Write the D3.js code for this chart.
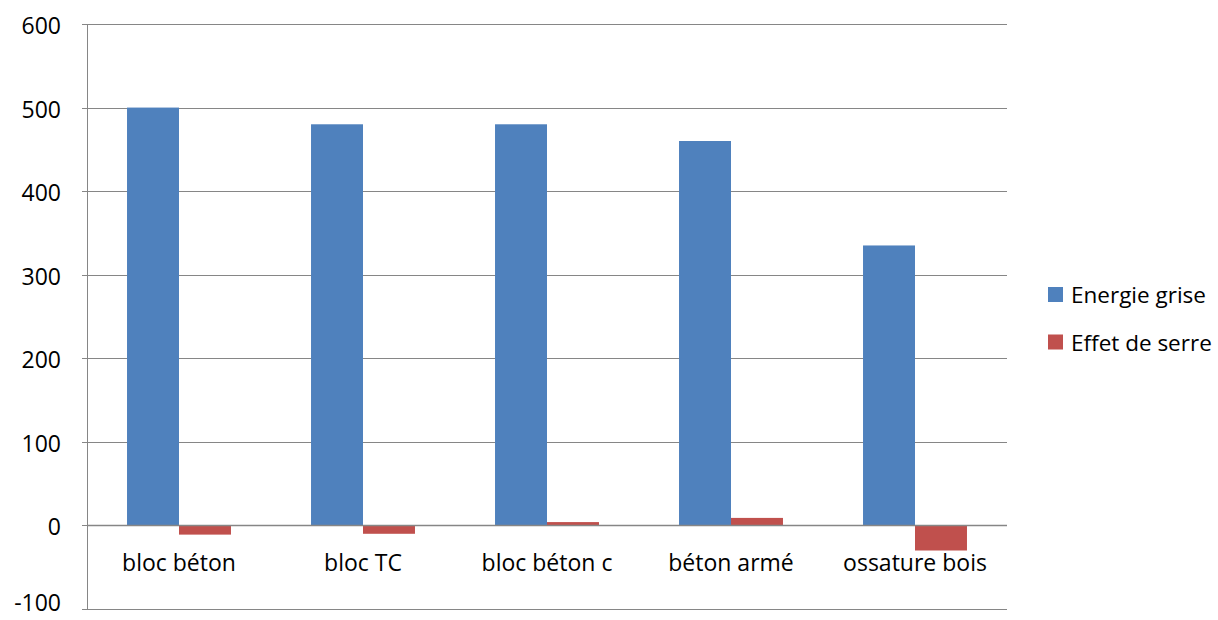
<!DOCTYPE html>
<html>
<head>
<meta charset="utf-8">
<script src="https://cdn.jsdelivr.net/npm/d3@7"></script>
<style>
  html, body { margin: 0; padding: 0; background: #fff; }
  text { font-family: "Open Sans", Lato, sans-serif; fill: #000; }
</style>
</head>
<body>
<svg id="chart" width="1218" height="620"></svg>
<script>
const categories = ["bloc béton", "bloc TC", "bloc béton c", "béton armé", "ossature bois"];
const seriesNames = ["Energie grise", "Effet de serre"];
const energieGrise = [500, 480, 480, 460, 335];
const effetDeSerre = [-11, -10, 4, 9, -30];
const yTicks = [-100, 0, 100, 200, 300, 400, 500, 600];
const colors = ["#4F81BD", "#C0504D"];

const svg = d3.select("#chart");
const plot = { left: 87, right: 1007, top: 24, bottom: 609 };
const fontSize = "23px";

const x = d3.scaleBand().domain(categories).range([plot.left, plot.right]).paddingInner(0).paddingOuter(0);
const y = d3.scaleLinear().domain([-100, 600]).range([plot.bottom, plot.top]);

const gridColor = "#868686";

// horizontal gridlines
svg.append("g").selectAll("line").data(yTicks).join("line")
  .attr("x1", plot.left - 5).attr("x2", plot.right)
  .attr("y1", d => Math.round(y(d)) + 0.5).attr("y2", d => Math.round(y(d)) + 0.5)
  .attr("stroke", gridColor).attr("stroke-width", 1);

// vertical value axis
svg.append("line")
  .attr("x1", plot.left + 0.5).attr("x2", plot.left + 0.5)
  .attr("y1", plot.top).attr("y2", plot.bottom + 0.5)
  .attr("stroke", gridColor).attr("stroke-width", 1);

// tick labels (the lowest one is clamped so it stays on the page)
svg.append("g").selectAll("text").data(yTicks).join("text")
  .attr("x", 61).attr("y", d => Math.min(y(d) + 1, 602))
  .attr("text-anchor", "end").attr("dominant-baseline", "central")
  .style("font-size", fontSize)
  .text(d => d);

// bars: two series per category
const barW = x.bandwidth() / 3.54;
const groups = categories.map((c, i) => ({ c, vals: [energieGrise[i], effetDeSerre[i]] }));
const g = svg.append("g");
groups.forEach(grp => {
  const cx = x(grp.c) + x.bandwidth() / 2;
  grp.vals.forEach((v, s) => {
    const x0 = cx - barW + s * barW;
    g.append("rect")
      .attr("x", x0).attr("width", barW)
      .attr("y", Math.min(y(v), y(0)))
      .attr("height", Math.abs(y(v) - y(0)))
      .attr("fill", colors[s]);
  });
});

// redraw zero line above bars
svg.append("line")
  .attr("x1", plot.left).attr("x2", plot.right)
  .attr("y1", Math.round(y(0)) + 0.5).attr("y2", Math.round(y(0)) + 0.5)
  .attr("stroke", gridColor).attr("stroke-width", 1.5);

// category labels
svg.append("g").selectAll("text").data(categories).join("text")
  .attr("x", d => x(d) + x.bandwidth() / 2).attr("y", 562)
  .attr("text-anchor", "middle").attr("dominant-baseline", "central")
  .style("font-size", fontSize)
  .text(d => d);

// legend
const legend = svg.append("g");
seriesNames.forEach((n, i) => {
  const ly = 294.5 + i * 47.5;
  legend.append("rect").attr("x", 1048).attr("y", ly - 7.5).attr("width", 15).attr("height", 15).attr("fill", colors[i]);
  legend.append("text").attr("x", 1071).attr("y", ly).attr("dominant-baseline", "central")
    .style("font-size", "22.5px").text(n);
});
</script>
</body>
</html>
